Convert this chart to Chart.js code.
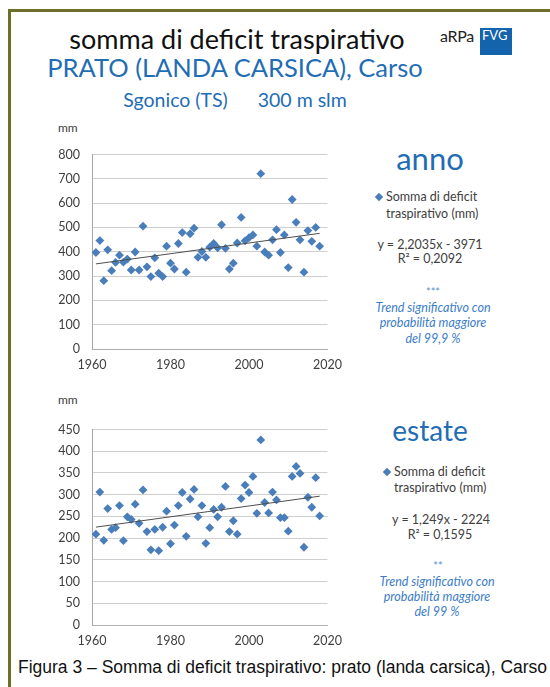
<!DOCTYPE html>
<html>
<head>
<meta charset="utf-8">
<script src="https://cdn.jsdelivr.net/npm/chart.js@4/dist/chart.umd.min.js"></script>
<style>
  html, body { margin: 0; padding: 0; background: #ffffff; }
  body { width: 550px; height: 687px; position: relative; overflow: hidden; font-family: Lato, "Open Sans", sans-serif; }
  .frame-top { position: absolute; left: 8px; top: 9px; width: 560px; height: 3px; background: #6f6f2c; }
  .frame-left { position: absolute; left: 8px; top: 9px; width: 3px; height: 700px; background: #6f6f2c; }
  .t { position: absolute; white-space: nowrap; transform: translate(-50%, -50%); line-height: 1; }
  .l { position: absolute; white-space: nowrap; transform: translate(0, -50%); line-height: 1; }
  .blue { color: #1f6db5; }
  .note { color: #3c7dc8; font-style: italic; font-size: 12.5px; }
  .leg { color: #404040; font-size: 12.5px; }
  .eq { color: #404040; font-size: 12.5px; }
  .diamond { position: absolute; width: 6px; height: 6px; background: #4a7ebb; transform: translate(-50%, -50%) rotate(45deg); }
  canvas { position: absolute; }
  .logo-box { position: absolute; left: 480px; top: 28px; width: 32px; height: 27px; background: #1463ad; }
</style>
</head>
<body>
<div class="frame-top"></div>
<div class="frame-left"></div>

<div class="t" style="left:237px; top:38px; font-size:27px; color:#111;">somma di deficit traspirativo</div>
<div class="t blue" style="left:235px; top:68px; font-size:25.5px;">PRATO (LANDA CARSICA), Carso</div>
<div class="t blue" style="left:235px; top:100px; font-size:19.5px;">Sgonico (TS)&nbsp;&nbsp;&nbsp;&nbsp;&nbsp;&nbsp;300 m slm</div>

<div class="l" style="left:440px; top:36px; font-size:16px; color:#222; letter-spacing:-0.3px;">aRPa</div>
<div class="logo-box"></div>
<div class="l" style="left:482px; top:35px; font-size:13px; color:#ffffff;">FVG</div>

<div class="l" style="left:58px; top:128px; font-size:12px; color:#404040;">mm</div>
<canvas id="chartAnno" width="320" height="245" style="left:30px; top:135px;"></canvas>

<div class="t blue" style="left:430px; top:158px; font-size:31px;">anno</div>
<div class="diamond" style="left:379px; top:197px;"></div>
<div class="l leg" style="left:386px; top:197px;">Somma di deficit</div>
<div class="l leg" style="left:386px; top:214px;">traspirativo (mm)</div>
<div class="t eq" style="left:430px; top:245px;">y = 2,2035x - 3971</div>
<div class="t eq" style="left:430px; top:259px;">R² = 0,2092</div>
<div class="t" style="left:433px; top:291px; font-size:11px; color:#5b8fd0;">***</div>
<div class="t note" style="left:433px; top:308px;">Trend significativo con</div>
<div class="t note" style="left:433px; top:323px;">probabilità maggiore</div>
<div class="t note" style="left:433px; top:339px;">del 99,9 %</div>

<div class="l" style="left:58px; top:400px; font-size:12px; color:#404040;">mm</div>
<canvas id="chartEstate" width="320" height="245" style="left:30px; top:410px;"></canvas>

<div class="t blue" style="left:430px; top:430px; font-size:28px;">estate</div>
<div class="diamond" style="left:387px; top:472px;"></div>
<div class="l leg" style="left:394px; top:472px;">Somma di deficit</div>
<div class="l leg" style="left:394px; top:488px;">traspirativo (mm)</div>
<div class="t eq" style="left:441px; top:520px;">y = 1,249x - 2224</div>
<div class="t eq" style="left:440px; top:535px;">R² = 0,1595</div>
<div class="t" style="left:438px; top:565px; font-size:11px; color:#5b8fd0;">**</div>
<div class="t note" style="left:437px; top:582px;">Trend significativo con</div>
<div class="t note" style="left:437px; top:597px;">probabilità maggiore</div>
<div class="t note" style="left:437px; top:612px;">del 99 %</div>

<div class="l" style="left:18px; top:668px; font-family:'Liberation Sans', Arial, sans-serif; font-size:17.5px; color:#111;">Figura 3 – Somma di deficit traspirativo: prato (landa carsica), Carso</div>

<script>
// Years 1961–2018
const years = [
  1961, 1962, 1963, 1964, 1965, 1966, 1967, 1968, 1969, 1970,
  1971, 1972, 1973, 1974, 1975, 1976, 1977, 1978, 1979, 1980,
  1981, 1982, 1983, 1984, 1985, 1986, 1987, 1988, 1989, 1990,
  1991, 1992, 1993, 1994, 1995, 1996, 1997, 1998, 1999, 2000,
  2001, 2002, 2003, 2004, 2005, 2006, 2007, 2008, 2009, 2010,
  2011, 2012, 2013, 2014, 2015, 2016, 2017, 2018
];

// Annual sum of transpiration deficit (mm)
const deficitAnno = [
  397, 446, 281, 408, 322, 356, 386, 357, 370, 325,
  399, 325, 505, 338, 298, 375, 312, 298, 423, 353,
  329, 434, 479, 316, 474, 497, 377, 401, 377, 419,
  434, 416, 511, 414, 329, 353, 436, 541, 445, 458,
  469, 423, 721, 399, 386, 449, 491, 397, 469, 335,
  615, 521, 449, 316, 487, 443, 500, 423
];

// Summer sum of transpiration deficit (mm)
const deficitEstate = [
  209, 306, 195, 268, 220, 224, 275, 194, 249, 243,
  278, 234, 311, 215, 173, 220, 171, 225, 262, 187,
  230, 275, 305, 204, 290, 312, 249, 275, 188, 224,
  266, 249, 271, 319, 215, 240, 209, 291, 322, 305,
  342, 257, 426, 282, 258, 306, 288, 247, 247, 216,
  342, 365, 349, 179, 294, 271, 339, 251
];

// Linear trends (y = slope * year + intercept)
const trendAnno = { slope: 2.2035, intercept: -3971 };
const trendEstate = { slope: 1.249, intercept: -2224 };

// Axis settings
const xTicks = { min: 1960, max: 2020, step: 20 };
const yAnno = { min: 0, max: 800, step: 100 };
const yEstate = { min: 0, max: 450, step: 50 };

const markerColor = '#4a7ebb';
const tickFont = { family: 'Lato, "Open Sans", sans-serif', size: 12.5 };

function trendPoints(trend) {
  const x0 = years[0], x1 = years[years.length - 1];
  return [
    { x: x0, y: trend.slope * x0 + trend.intercept },
    { x: x1, y: trend.slope * x1 + trend.intercept }
  ];
}

function makeChart(id, values, trend, yCfg, padTop, xHeight) {
  const pts = years.map((yr, i) => ({ x: yr, y: values[i] }));
  return new Chart(document.getElementById(id), {
    type: 'scatter',
    data: {
      datasets: [
        {
          data: pts,
          pointStyle: 'rectRot',
          pointRadius: 4.4,
          pointBackgroundColor: markerColor,
          pointBorderColor: markerColor,
          pointBorderWidth: 0,
          showLine: false,
          order: 1
        },
        {
          type: 'line',
          data: trendPoints(trend),
          borderColor: '#4d4d4d',
          borderWidth: 1,
          pointRadius: 0,
          fill: false,
          order: 0
        }
      ]
    },
    options: {
      responsive: false,
      animation: false,
      layout: { padding: { top: padTop, right: 17, left: 0, bottom: 0 } },
      plugins: { legend: { display: false }, tooltip: { enabled: false } },
      scales: {
        x: {
          type: 'linear',
          min: xTicks.min,
          max: xTicks.max,
          ticks: { stepSize: xTicks.step, color: '#404040', font: tickFont, padding: 8,
                   callback: v => String(v) },
          grid: { display: false, drawTicks: false },
          border: { display: true, color: '#b0b0b0', width: 1 },
          afterFit: s => { s.height = xHeight; }
        },
        y: {
          min: yCfg.min,
          max: yCfg.max,
          ticks: { stepSize: yCfg.step, color: '#404040', font: tickFont, padding: 12 },
          grid: { color: '#cfcfcf', lineWidth: 1, drawTicks: false },
          border: { display: true, color: '#a6a6a6', width: 1 },
          afterFit: s => { s.width = 62; }
        }
      }
    }
  });
}

makeChart('chartAnno', deficitAnno, trendAnno, yAnno, 11, 31);
makeChart('chartEstate', deficitEstate, trendEstate, yEstate, 12, 30);
</script>
</body>
</html>
